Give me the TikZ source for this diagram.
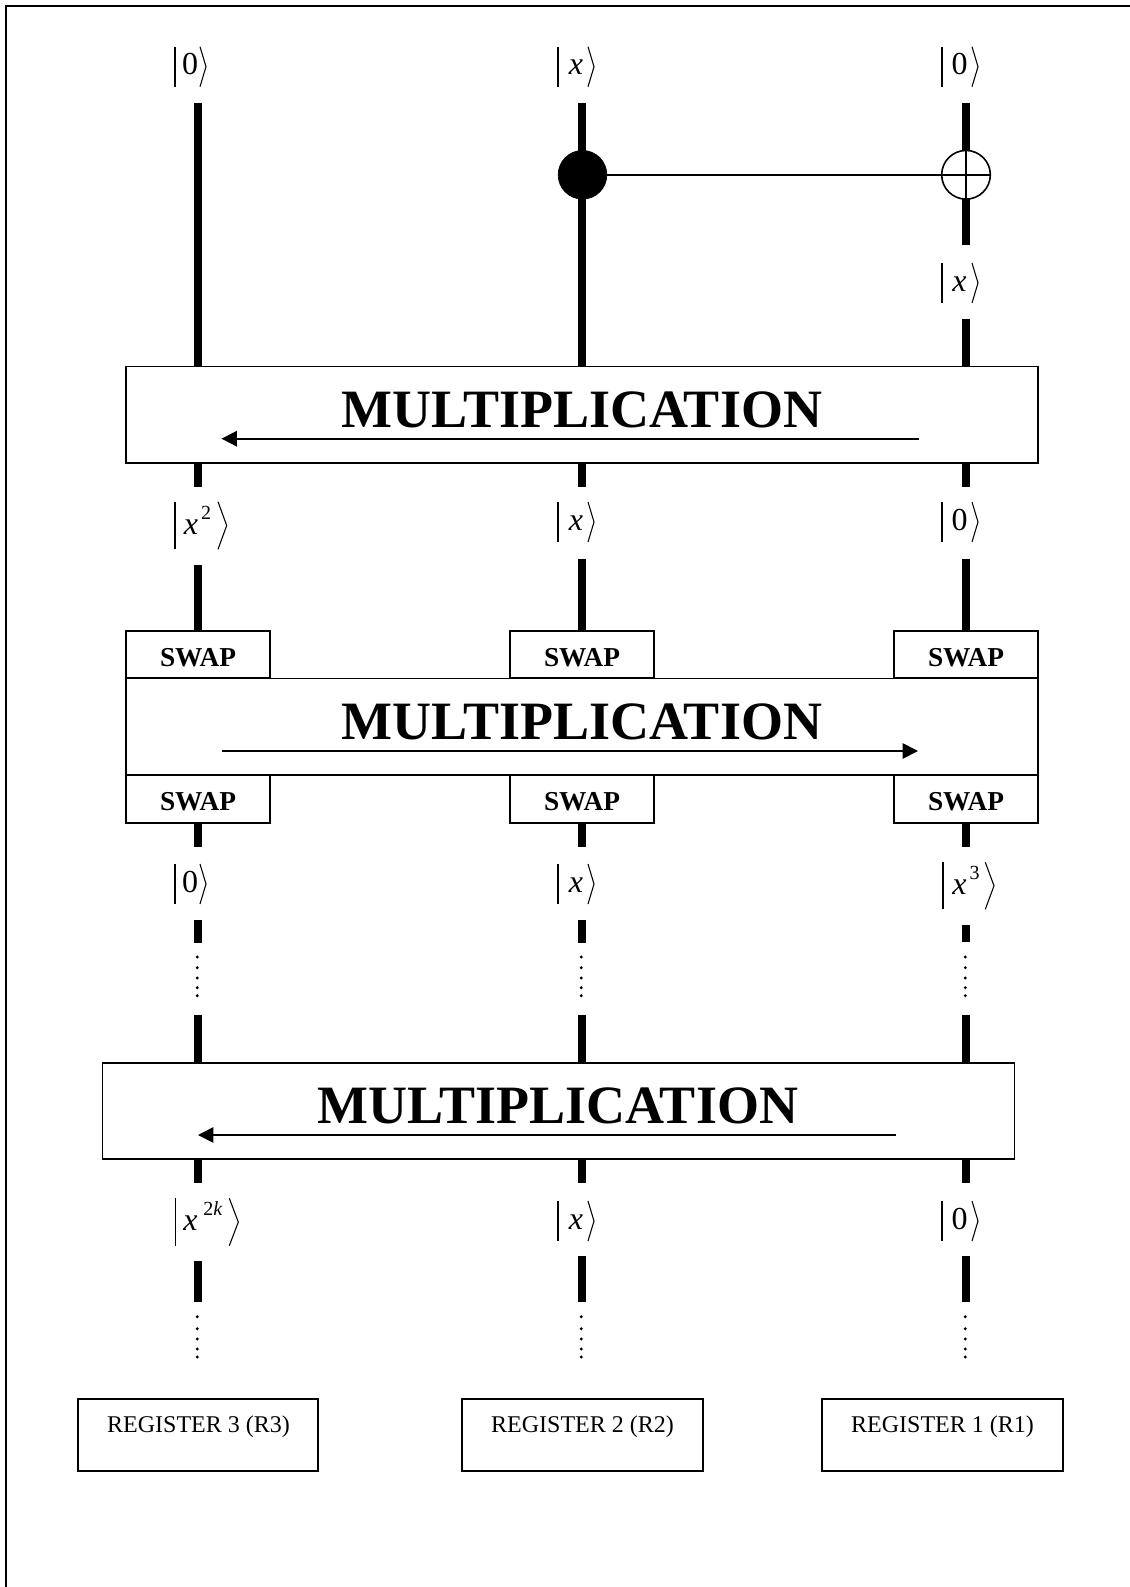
\documentclass[tikz,border=0pt]{standalone}
\usepackage{fontspec}
\setmainfont{Liberation Serif}
\usetikzlibrary{arrows.meta}
\tikzset{
  x=0.75pt,y=-0.75pt,
  wirepart/.style={line width=6pt,line cap=butt,draw=black},
  thinbox/.style={draw=black,fill=white,line width=1.2pt,inner sep=0pt,outer sep=0pt},
  regbox/.style={draw=black,fill=white,line width=1.5pt,inner sep=0pt,outer sep=0pt},
  multtext/.style={anchor=base,inner sep=0pt,font=\fontsize{40.5}{40.5}\selectfont\bfseries},
  swaptext/.style={anchor=base,inner sep=0pt,font=\fontsize{20.5}{20.5}\selectfont\bfseries},
  regtext/.style={anchor=base,inner sep=0pt,font=\fontsize{18}{18}\selectfont},
  kettext/.style={anchor=base,inner sep=0pt,font=\fontsize{24}{24}\selectfont},
  supertext/.style={anchor=base,inner sep=0pt,font=\fontsize{15}{15}\selectfont},
  ketline/.style={line width=0.8pt,draw=black},
  flowarrow/.style={line width=1.3pt,draw=black,-{Triangle[length=11.5pt,width=11.5pt]}},
  framepart/.style={line width=1.5pt,draw=black,line cap=butt},
  dotmark/.style={fill=black}
}
% {name}{x}{y1}{y2}
\newcommand\wirepiece[4]{%
  \coordinate (#1a) at (#2,#3);
  \coordinate (#1b) at (#2,#4);
  \draw[wirepart] (#1a) -- (#1b);}
% {style}{name}{x1}{y1}{x2}{y2}
\newcommand\boxpiece[6]{%
  \pgfmathsetmacro\bcx{(#3+#5)/2}%
  \pgfmathsetmacro\bcy{(#4+#6)/2}%
  \pgfmathsetmacro\bww{(#5-#3)*0.75}%
  \pgfmathsetmacro\bhh{(#6-#4)*0.75}%
  \node[#1,minimum width=\bww pt,minimum height=\bhh pt] (#2) at (\bcx,\bcy) {};}
% {barx}{top}{bottom}{anglex}{tipx}
\newcommand\ketmarks[5]{%
  \pgfmathsetmacro\kmid{(#2+#3)/2}%
  \draw[ketline] (#1,#2) -- (#1,#3);
  \draw[ketline,line join=miter] (#4,#2) -- (#5,\kmid) -- (#4,#3);}
% {x}{y list}: five dots
\newcommand\dotcolumn[2]{%
  \foreach \dy in {#2}{\fill[dotmark] (#1,\dy) circle[radius=1.6];}}
\begin{document}
\begin{tikzpicture}
\useasboundingbox (0,0) rectangle (1130,1587);
\fill[white] (0,0) rectangle (1130,1587);
% frame
\coordinate (frameA) at (6,1587);
\coordinate (frameB) at (6,6);
\coordinate (frameC) at (1130,6);
\draw[framepart] (frameA) -- (frameB) -- (frameC);

% wires
\wirepiece{La}{198}{103}{366}
\wirepiece{Lb}{198}{463}{487}
\wirepiece{Lc}{198}{565}{631}
\wirepiece{Ld}{198}{823}{847}
\wirepiece{Le}{198}{920}{943}
\wirepiece{Lf}{198}{1015}{1063}
\wirepiece{Lg}{198}{1159}{1183}
\wirepiece{Lh}{198}{1261}{1302}

\wirepiece{Ma}{582}{103}{366}
\wirepiece{Mb}{582}{463}{487}
\wirepiece{Mc}{582}{559}{631}
\wirepiece{Md}{582}{823}{847}
\wirepiece{Me}{582}{920}{943}
\wirepiece{Mf}{582}{1015}{1063}
\wirepiece{Mg}{582}{1159}{1183}
\wirepiece{Mh}{582}{1256}{1302}

\wirepiece{Ra}{966}{103}{245}
\wirepiece{Rb}{966}{319}{366}
\wirepiece{Rc}{966}{463}{487}
\wirepiece{Rd}{966}{559}{631}
\wirepiece{Re}{966}{823}{847}
\wirepiece{Rf}{966}{925}{942}
\wirepiece{Rg}{966}{1015}{1063}
\wirepiece{Rh}{966}{1159}{1183}
\wirepiece{Ri}{966}{1256}{1302}

% control
\node[circle,fill=black,draw=black,line width=0.5pt,minimum size=36.5pt,inner sep=0pt,outer sep=0pt] (ctrl) at (582.5,174.8) {};
\node[circle,fill=white,draw=black,line width=1.2pt,minimum size=36.5pt,inner sep=0pt,outer sep=0pt] (targ) at (966,174.8) {};
\draw[line width=1.3pt] (ctrl.east) -- (targ.east);
\draw[line width=0.8pt] (targ.north) -- (targ.south);

% boxes
\boxpiece{thinbox}{mulA}{126}{366.5}{1038}{463}
\boxpiece{thinbox}{swpA}{126}{631}{270}{678}
\boxpiece{thinbox}{swpB}{510}{631}{654}{678}
\boxpiece{thinbox}{swpC}{894}{631}{1038}{678}
\boxpiece{thinbox}{mulB}{126}{678.5}{1038}{775}
\boxpiece{thinbox}{swpD}{126}{775}{270}{823}
\boxpiece{thinbox}{swpE}{510}{775}{654}{823}
\boxpiece{thinbox}{swpF}{894}{775}{1038}{823}
\boxpiece{thinbox}{mulC}{102.5}{1063}{1014.5}{1159}
\boxpiece{regbox}{regC}{77.5}{1399}{318}{1471}
\boxpiece{regbox}{regB}{462}{1399}{702.5}{1471}
\boxpiece{regbox}{regA}{822}{1399}{1062.5}{1471}

% box texts
\node[multtext] (mulAt) at (582,427.8) {MULTIPLICATION};
\node[multtext] (mulBt) at (582,739.8) {MULTIPLICATION};
\node[multtext] (mulCt) at (558,1123.8) {MULTIPLICATION};
\node[swaptext] (swpAt) at (198,666) {SWAP};
\node[swaptext] (swpBt) at (582,666) {SWAP};
\node[swaptext] (swpCt) at (966,666) {SWAP};
\node[swaptext] (swpDt) at (198,810) {SWAP};
\node[swaptext] (swpEt) at (582,810) {SWAP};
\node[swaptext] (swpFt) at (966,810) {SWAP};
\node[regtext] (regCt) at (198.5,1432.7) {REGISTER 3 (R3)};
\node[regtext] (regBt) at (582.5,1432.7) {REGISTER 2 (R2)};
\node[regtext] (regAt) at (942.5,1432.7) {REGISTER 1 (R1)};

% arrows
\coordinate (arAs) at (918.5,438.7); \coordinate (arAe) at (221.5,438.7);
\coordinate (arBs) at (222,751);     \coordinate (arBe) at (918,751);
\coordinate (arCs) at (896,1135);    \coordinate (arCe) at (198,1135);
\draw[flowarrow] (arAs) -- (arAe);
\draw[flowarrow] (arBs) -- (arBe);
\draw[flowarrow] (arCs) -- (arCe);

% kets, top row
\ketmarks{175}{46.7}{86.7}{200}{206}
\node[kettext] (k1) at (190,75) {0};
\ketmarks{558}{46.7}{86.7}{588}{594}
\node[kettext] (k2) at (576,75) {\itshape x};
\ketmarks{942}{46.7}{86.7}{972}{978}
\node[kettext] (k3) at (959.5,75) {0};
% |x> on right wire
\ketmarks{942}{263}{303}{972}{978}
\node[kettext] (k4) at (959.5,291.5) {\itshape x};
% second row
\ketmarks{175}{501.7}{549.3}{218}{226.7}
\node[kettext] (k5) at (191,534.3) {\itshape x};
\node[supertext] (k5s) at (206,519.3) {2};
\ketmarks{558}{502}{542}{588}{594}
\node[kettext] (k6) at (576,530.5) {\itshape x};
\ketmarks{942}{502}{542}{972}{978}
\node[kettext] (k7) at (959.5,530.5) {0};
% third row
\ketmarks{175}{864}{904}{200}{206}
\node[kettext] (k8) at (190,892.5) {0};
\ketmarks{558}{864}{904}{588}{594}
\node[kettext] (k9) at (576,892.5) {\itshape x};
\ketmarks{943}{862.3}{909.3}{985.3}{994}
\node[kettext] (k10) at (959.5,894) {\itshape x};
\node[supertext] (k10s) at (974.5,879) {3};
% fourth row
\ketmarks{175.3}{1198.3}{1245.7}{229.3}{238.3}
\node[kettext] (k11) at (190.5,1230) {\itshape x};
\node[supertext,anchor=base west] (k11s) at (203,1215) {2\itshape k};
\ketmarks{558}{1201}{1241}{588}{594}
\node[kettext] (k12) at (576,1229.5) {\itshape x};
\ketmarks{942}{1201}{1241}{972}{978}
\node[kettext] (k13) at (959.5,1229.5) {0};

% dots
\foreach \cx in {197.3,581.3,965.3}{
  \dotcolumn{\cx}{957,967.7,978,987.7,995.7}
  \dotcolumn{\cx}{1316.7,1328.7,1339,1349,1357}
}
\end{tikzpicture}
\end{document}
